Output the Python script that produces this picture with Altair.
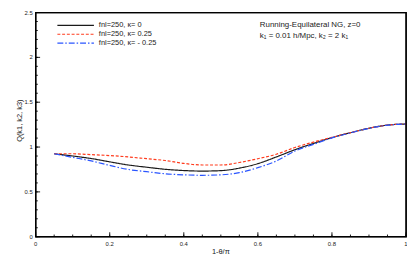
import altair as alt
import pandas as pd

# ---- data ----
x_vals = [0.05, 0.10, 0.15, 0.20, 0.25, 0.30, 0.35, 0.40, 0.45, 0.50,
          0.55, 0.60, 0.65, 0.70, 0.75, 0.80, 0.85, 0.90, 0.95, 1.00]
q_k0 = [0.925, 0.90, 0.872, 0.835, 0.80, 0.775, 0.752, 0.738, 0.732, 0.737,
        0.765, 0.815, 0.89, 0.97, 1.04, 1.105, 1.16, 1.21, 1.245, 1.257]
q_kp = [0.925, 0.925, 0.915, 0.905, 0.89, 0.87, 0.85, 0.818, 0.80, 0.80,
        0.828, 0.87, 0.92, 0.995, 1.055, 1.108, 1.16, 1.21, 1.245, 1.257]
q_km = [0.925, 0.885, 0.845, 0.795, 0.75, 0.725, 0.702, 0.69, 0.685, 0.69,
        0.715, 0.77, 0.845, 0.955, 1.03, 1.102, 1.158, 1.208, 1.244, 1.257]
series_names = ["fnl=250, κ= 0", "fnl=250, κ= 0.25", "fnl=250, κ= - 0.25"]
series_colors = ["#1a1a1a", "#ff3c1e", "#2a55ff"]
series_dash = [[1, 0], [3, 1.8], [6, 2, 1.5, 2]]
x_major = [0, 0.2, 0.4, 0.6, 0.8, 1.0]
x_major_labels = ["0", "0.2", "0.4", "0.6", "0.8", "1"]
y_major = [0, 0.5, 1.0, 1.5, 2.0, 2.5]
y_major_labels = ["0", "0.5", "1", "1.5", "2", "2.5"]
x_minor = [round(i * 0.05, 2) for i in range(21)]
y_minor = [round(i * 0.1, 2) for i in range(26)]
x_title = "1-θ/π"
y_title = "Q(k1, k2, k3)"
note_lines = ["Running-Equilateral NG, z=0", "k₁ = 0.01 h/Mpc, k₂ = 2 k₁"]

W, H = 375, 227
FONT = "Liberation Sans"
TXT = "#222"

rows = []
for name, ys in zip(series_names, [q_k0, q_kp, q_km]):
    for xv, yv in zip(x_vals, ys):
        rows.append({"x": xv, "q": yv, "series": name})
df = pd.DataFrame(rows)

xscale = alt.Scale(domain=[0, 1], nice=False)
yscale = alt.Scale(domain=[0, 2.5], nice=False)

lines = alt.Chart(df).mark_line(strokeWidth=1.2, interpolate="monotone").encode(
    x=alt.X("x:Q", scale=xscale, axis=None),
    y=alt.Y("q:Q", scale=yscale, axis=None),
    color=alt.Color("series:N", scale=alt.Scale(domain=series_names, range=series_colors), legend=None),
    strokeDash=alt.StrokeDash("series:N", scale=alt.Scale(domain=series_names, range=series_dash), legend=None),
)

def xticks(vals, length):
    return alt.Chart(pd.DataFrame({"tx": vals})).mark_rule(color="black", strokeWidth=0.9).encode(
        x=alt.X("tx:Q", scale=xscale, axis=None), y=alt.value(H), y2=alt.value(H - length))

def yticks(vals, length):
    return alt.Chart(pd.DataFrame({"ty": vals})).mark_rule(color="black", strokeWidth=0.9).encode(
        y=alt.Y("ty:Q", scale=yscale, axis=None), x=alt.value(0), x2=alt.value(length))

frame = alt.Chart(pd.DataFrame({"f": [0]})).mark_rect(
    fill="transparent", stroke="black", strokeWidth=1.3).encode(
    x=alt.value(0), x2=alt.value(W), y=alt.value(0), y2=alt.value(H))

# tick labels and axis titles as text marks placed by the same scales
xlab = alt.Chart(pd.DataFrame({"lx": x_major, "s": x_major_labels})).mark_text(
    font=FONT, fontSize=6, color=TXT, align="center", baseline="middle").encode(
    x=alt.X("lx:Q", scale=xscale, axis=None), y=alt.value(H + 7), text="s:N")
ylab = alt.Chart(pd.DataFrame({"ly": y_major, "s": y_major_labels})).mark_text(
    font=FONT, fontSize=6, color=TXT, align="right", baseline="middle").encode(
    y=alt.Y("ly:Q", scale=yscale, axis=None), x=alt.value(-3), text="s:N")
xtit = alt.Chart(pd.DataFrame({"t": [x_title]})).mark_text(
    font=FONT, fontSize=7.5, color=TXT, align="center", baseline="middle").encode(
    x=alt.value(W / 2), y=alt.value(H + 15.5), text="t:N")
ytit = alt.Chart(pd.DataFrame({"t": [y_title]})).mark_text(
    font=FONT, fontSize=7.5, color=TXT, align="center", baseline="middle", angle=270).encode(
    x=alt.value(-16), y=alt.value(H / 2 - 4), text="t:N")

layers = [lines, xticks(x_minor, 2.2), xticks(x_major, 4.5), yticks(y_minor, 2.2),
          yticks(y_major, 4.5), frame, xlab, ylab, xtit, ytit]

# legend (manual, inside the plot)
for i, (name, col, dash) in enumerate(zip(series_names, series_colors, series_dash)):
    yy = 13 + 9 * i
    base = alt.Chart(pd.DataFrame({"name": [name]}))
    layers.append(base.mark_rule(color=col, strokeWidth=1.2, strokeDash=dash).encode(
        x=alt.value(22), x2=alt.value(59), y=alt.value(yy)))
    layers.append(base.mark_text(align="left", baseline="middle", font=FONT, fontSize=7.5,
                                 color=TXT).encode(
        x=alt.value(64), y=alt.value(yy), text="name:N"))

for i, line in enumerate(note_lines):
    layers.append(alt.Chart(pd.DataFrame({"t": [line]})).mark_text(
        align="left", baseline="alphabetic", font=FONT, fontSize=8, color=TXT).encode(
        x=alt.value(227), y=alt.value(15 + 10.5 * i), text="t:N"))

chart = alt.layer(*layers).properties(
    width=W, height=H,
    padding={"left": 28, "top": 3, "right": 1, "bottom": 24},
    autosize=alt.AutoSizeParams(type="none"),
    background="white",
).configure_view(stroke="black", strokeWidth=1.3)

chart.save("out.html", embed_options={"renderer": "svg", "actions": False})
